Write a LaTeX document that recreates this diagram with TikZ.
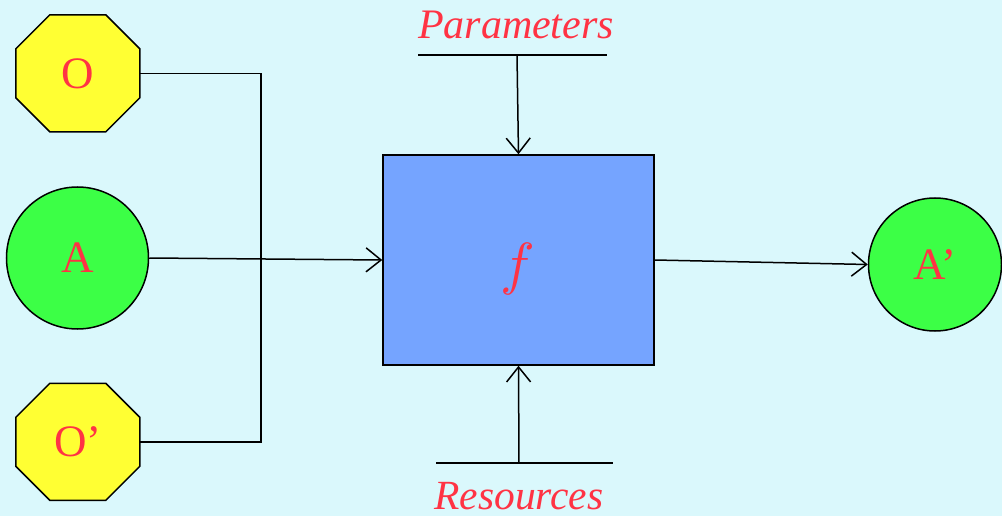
\documentclass[tikz,border=0pt]{standalone}
\usepackage{fontspec}
\usepackage{unicode-math}
\setmainfont{Liberation Serif}
\setmathfont{Latin Modern Math}
\usetikzlibrary{arrows.meta}
\definecolor{bgc}{HTML}{DAF8FC}
\definecolor{yel}{HTML}{FFFF33}
\definecolor{grn}{HTML}{3CFF46}
\definecolor{blu}{HTML}{75A4FF}
\definecolor{txt}{HTML}{FF3344}
\tikzset{
  conn/.style={line width=1.5pt, draw=black},
  arr/.style={conn, -{Straight Barb[length=15pt,width=24pt]}},
  lbl/.style={text=txt, font=\fontsize{45}{48}\selectfont, inner sep=0pt},
  circnode/.style={circle, draw=black, line width=1.5pt, fill=grn, lbl},
  octbox/.style={rectangle, minimum width=124pt, minimum height=117pt, lbl},
  octshape/.style={draw=black, line width=1.5pt, fill=yel},
  ital/.style={text=txt, font=\fontsize{41.5}{44}\selectfont\itshape, inner sep=0pt, anchor=base},
}
\begin{document}
\begin{tikzpicture}[x=1pt,y=-1pt]
\useasboundingbox[fill=bgc] (0,0) rectangle (1002,516);
% octagons
\node[octbox] (O) at (78,73.5) {};
\draw[octshape] (O.north west) ++(34,0) -- ++(56,0) -- ++(34,34) -- ++(0,49) -- ++(-34,34) -- ++(-56,0) -- ++(-34,-34) -- ++(0,-49) -- cycle;
\node[lbl] at (O.center) {O};
\node[octbox] (Op) at (78,442) {};
\draw[octshape] (Op.north west) ++(34,0) -- ++(56,0) -- ++(34,34) -- ++(0,49) -- ++(-34,34) -- ++(-56,0) -- ++(-34,-34) -- ++(0,-49) -- cycle;
\node[lbl] at (Op.center) {O’};
% circles
\node[circnode, minimum size=142pt] (A) at (77.5,258) {A};
\node[circnode, minimum size=133pt] (Ap) at (935,264.5) {A’};
% box
\node[rectangle, draw=black, line width=1.5pt, fill=blu, minimum width=271pt, minimum height=210pt] (F) at (518.5,260) {};
\node[text=txt, font=\fontsize{58}{62}\selectfont, inner sep=0pt, anchor=base] (fl) at (517,283) {$f$};
% junction
\coordinate (J) at (261,260);
\draw[conn] (O.east) -| (J);
\draw[conn] (Op.east) -| (J);
\draw[arr] (A.east) -- (F.west);
\draw[arr] (F.east) -- (Ap.west);
% parameters
\coordinate (P1) at (418,55);
\coordinate (P2) at (607,55);
\coordinate (Pm) at (517,55);
\draw[conn] (P1) -- (P2);
\draw[arr] (Pm) -- (F.north);
\node[ital, font=\fontsize{42}{44}\selectfont\itshape] (Pt) at (516,39) {Parameters};
% resources
\coordinate (R1) at (436,463);
\coordinate (R2) at (613,463);
\coordinate (Rm) at (519,463);
\draw[conn] (R1) -- (R2);
\draw[arr] (Rm) -- (F.south);
\node[ital] (Rt) at (519,509) {Resources};
\end{tikzpicture}
\end{document}
